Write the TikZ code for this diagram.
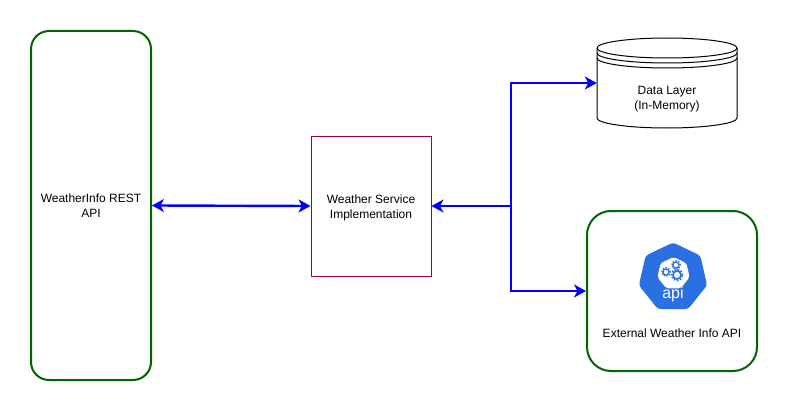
\documentclass[tikz,border=0pt]{standalone}
\usepackage{fontspec}
\setmainfont{Liberation Sans}
\usepackage{tikz}
\usetikzlibrary{arrows.meta, positioning, shapes.geometric}

\definecolor{boxgreen}{HTML}{006600}
\definecolor{boxred}{HTML}{99004D}
\definecolor{iconblue}{HTML}{2B70E3}

\tikzset{
  greenbox/.style={draw=boxgreen, line width=2pt, rounded corners=#1, align=center},
  flow/.style={draw=blue, line width=2.4pt, -{Stealth[length=12pt, width=13pt, inset=3.5pt]}},
  biflow/.style={draw=blue, line width=2.4pt, {Stealth[length=12pt, width=13pt, inset=3.5pt]}-{Stealth[length=12pt, width=13pt, inset=3.5pt]}},
  gearcog/.style={draw=iconblue, line width=#1, fill=white}
}

\begin{document}
\begin{tikzpicture}[x=1pt, y=-1pt, font=\fontsize{12}{15}\selectfont]
  \useasboundingbox (0,0) rectangle (788,412);

  % Left and middle boxes
  \node[greenbox=18pt, minimum width=120pt, minimum height=349pt] (restapi) at (91,205.5) {};
  \node (resttext) at (91,206) [align=center] {WeatherInfo REST\\API};
  \node[draw=boxred, line width=1pt, minimum width=120pt, minimum height=140pt] (service) at (371,206) {};
  \node (servicetext) at (371,208) [align=center] {Weather Service\\Implementation};

  % Data layer cylinder
  \draw[line width=1pt, fill=white] (597,48) arc[x radius=70, y radius=10, start angle=180, end angle=360]
    -- (737,118) arc[x radius=70, y radius=10, start angle=0, end angle=180] -- cycle;
  \draw[line width=1pt] (597,48) arc[x radius=70, y radius=10, start angle=180, end angle=0];
  \draw[line width=1pt] (597,53) arc[x radius=70, y radius=10, start angle=180, end angle=0];
  \draw[line width=1pt] (597,58) arc[x radius=70, y radius=10, start angle=180, end angle=0];
  \node[minimum width=140pt, minimum height=90pt] (datalayer) at (667,83) {};
  \node[align=center] (datatext) at (667,99.5) {Data Layer\\(In-Memory)};

  % External API box
  \node[greenbox=24pt, minimum width=170pt, minimum height=160pt] (externalapi) at (672,291) {};
  \node (externaltext) at (672,333) {External Weather Info API};

  % Icon
  \node[regular polygon, regular polygon sides=7, minimum size=70pt, inner sep=0pt, fill=iconblue, rounded corners=3pt] (apiicon) at (673,277.5) {};
  \node[regular polygon, regular polygon sides=7, minimum size=33pt, inner sep=0pt, fill=white, rounded corners=2pt] (apiinner) at (673.5,273.5) {};
  \node[text=white, font=\fontsize{16}{16}\selectfont] (apitext) at (673,294.5) {api};

  % Gears
  \draw[gearcog=1.2pt] (676,265) circle (3pt);
  \draw[iconblue, line width=1.4pt, dash pattern=on 1.4pt off 1.4pt] (676,265) circle (4.2pt);
  \draw[gearcog=1.2pt] (666,272) circle (3pt);
  \draw[iconblue, line width=1.4pt, dash pattern=on 1.4pt off 1.4pt] (666,272) circle (4.2pt);
  \draw[gearcog=1.6pt] (677,275) circle (4pt);
  \draw[iconblue, line width=1.6pt, dash pattern=on 1.6pt off 1.6pt] (677,275) circle (5.6pt);

  % Connectors
  \coordinate (junction) at (511,206);
  \draw[biflow] (restapi.east) -- (service.west);
  \draw[flow] (junction) -- (service.east);
  \draw[flow] (junction) |- (datalayer.west);
  \draw[flow] (junction) |- (externalapi.west);
\end{tikzpicture}
\end{document}
